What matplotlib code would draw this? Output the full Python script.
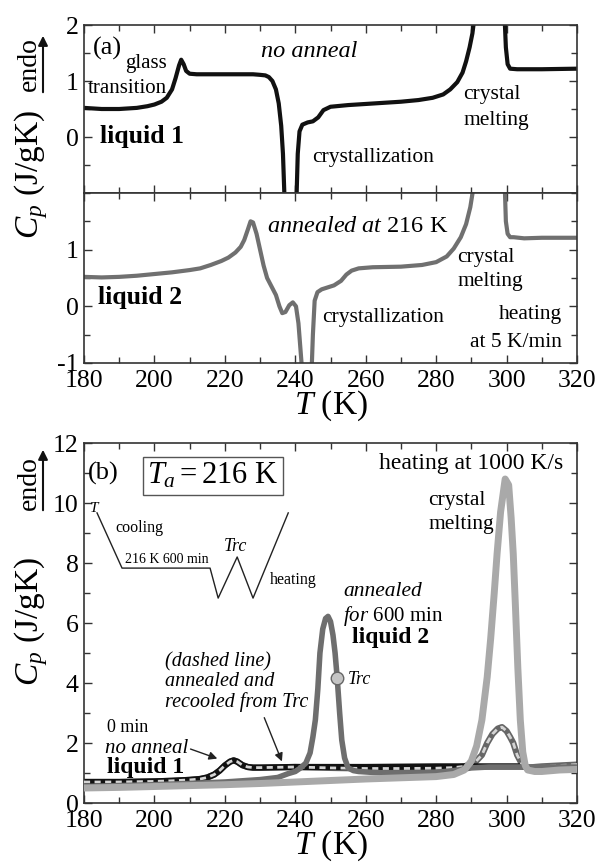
import numpy as np
import matplotlib
matplotlib.use('Agg')
import matplotlib.pyplot as plt
from matplotlib.ticker import MultipleLocator
from matplotlib.patches import FancyArrowPatch

plt.rcParams['font.family'] = ['Liberation Serif', 'DejaVu Serif']
plt.rcParams['mathtext.fontset'] = 'custom'
plt.rcParams['mathtext.rm'] = 'Liberation Serif'
plt.rcParams['mathtext.it'] = 'Liberation Serif:italic'
plt.rcParams['mathtext.bf'] = 'Liberation Serif:bold'
plt.rcParams['axes.unicode_minus'] = False

# ---- (a) DSC, heating at 5 K/min ----
T_noanneal = [180, 185, 190, 195, 198, 200, 202, 203.5, 205, 206, 207, 207.6, 208.3, 209, 210,
              212, 215, 220, 225, 228, 230, 231.5, 232.5, 233.5, 234.5, 235.3, 236, 236.5, 237.0,
              238.5, 240.3, 240.7, 241.2, 242, 243.5, 245, 246.5, 248, 250, 255, 260, 265, 270,
              275, 279, 282, 284, 286, 287.5, 288.5, 289.5, 290.3, 291, 295, 299.4, 299.8,
              300.3, 301, 303, 310, 320]
cp_noanneal = [0.52, 0.50, 0.50, 0.52, 0.55, 0.58, 0.63, 0.70, 0.85, 1.05, 1.28, 1.38, 1.30, 1.18, 1.13,
               1.12, 1.12, 1.12, 1.12, 1.12, 1.11, 1.10, 1.07, 1.00, 0.85, 0.60, 0.20, -0.30, -1.20,
               -3.0, -1.20, -0.30, 0.10, 0.22, 0.26, 0.28, 0.35, 0.48, 0.54, 0.57, 0.59, 0.61, 0.63,
               0.66, 0.70, 0.76, 0.85, 0.98, 1.15, 1.35, 1.60, 1.85, 2.20, 5.0, 2.20, 1.60,
               1.30, 1.22, 1.21, 1.21, 1.22]

T_ann216 = [180, 185, 190, 195, 200, 205, 210, 213, 216, 219, 221, 223, 224.5, 225.5, 226.5, 227.3,
            228, 229, 230, 231, 232, 233, 234.5, 235.5, 236.3, 237.2, 238.3, 239.3, 240.2, 240.9,
            241.4, 241.9, 243.5, 244.6, 245.0, 245.5, 246.3, 247.5, 249, 251, 253, 254.5, 256, 258,
            262, 270, 276, 280, 283, 285, 287, 288.5, 289.7, 290.6, 295, 299.5, 299.8, 300.3, 301,
            302, 305, 310, 315, 320]
cp_ann216 = [0.52, 0.51, 0.52, 0.54, 0.57, 0.60, 0.64, 0.67, 0.73, 0.80, 0.86, 0.95, 1.05, 1.17, 1.35, 1.50,
             1.48, 1.28, 1.00, 0.72, 0.50, 0.38, 0.20, 0.00, -0.12, -0.10, 0.02, 0.07, 0.00, -0.30,
             -0.70, -1.10, -3.0, -1.20, -0.50, 0.10, 0.25, 0.30, 0.33, 0.37, 0.45, 0.56, 0.63, 0.67,
             0.69, 0.70, 0.73, 0.78, 0.88, 1.02, 1.22, 1.45, 1.75, 2.10, 5.0, 2.10, 1.50, 1.28, 1.22,
             1.22, 1.20, 1.21, 1.21, 1.21]

# ---- (b) fast scanning, heating at 1000 K/s ----
T_liq1 = [180, 190, 200, 205, 210, 213, 215, 217, 218.5, 220, 221.5, 222.5, 223.5, 225, 226.5, 228,
          230, 235, 240, 250, 260, 270, 280, 290, 295, 300, 304]
cp_liq1 = [0.70, 0.70, 0.72, 0.74, 0.77, 0.80, 0.85, 0.95, 1.08, 1.25, 1.38, 1.42, 1.38, 1.26, 1.20, 1.18,
           1.18, 1.19, 1.20, 1.20, 1.20, 1.21, 1.22, 1.22, 1.22, 1.22, 1.22]

T_recool = [180, 190, 200, 205, 210, 213, 215, 217, 218.5, 220, 221.5, 222.5, 223.5, 225, 226.5, 228,
            230, 235, 240, 250, 260, 270, 280, 285, 288, 291, 293, 294.5, 296, 297.5, 298.7, 300,
            301, 301.9, 303, 304.7, 306, 310, 315, 320]
cp_recool = [0.70, 0.70, 0.72, 0.74, 0.77, 0.80, 0.85, 0.95, 1.08, 1.25, 1.38, 1.42, 1.38, 1.26, 1.20, 1.18,
             1.18, 1.19, 1.20, 1.17, 1.15, 1.15, 1.16, 1.18, 1.22, 1.35, 1.60, 2.00, 2.30, 2.48, 2.53, 2.40,
             2.20, 2.00, 1.60, 1.22, 1.18, 1.22, 1.25, 1.28]

T_liq2 = [180, 190, 200, 210, 220, 230, 235, 238, 240, 241.5, 243, 244.2, 245, 245.7, 246.4, 247,
          247.8, 248.6, 249.3, 250, 250.7, 251.3, 251.9, 252.6, 253.2, 254, 255, 256.5, 258, 262,
          266, 270, 275, 280, 285, 290, 295, 300, 305, 310, 315, 320]
cp_liq2 = [0.55, 0.58, 0.61, 0.65, 0.70, 0.78, 0.85, 0.98, 1.05, 1.17, 1.33, 1.67, 2.20, 2.77, 3.80, 5.00,
           5.80, 6.15, 6.22, 6.05, 5.60, 5.00, 4.17, 3.00, 2.10, 1.50, 1.17, 1.08, 1.05, 1.02,
           1.00, 1.00, 1.00, 1.02, 1.08, 1.17, 1.20, 1.20, 1.20, 1.20, 1.20, 1.20]

T_melt = [180, 190, 200, 210, 220, 230, 240, 250, 260, 270, 280, 285, 288, 290, 291.5, 293, 294.5,
          295.5, 296.5, 297.3, 298.3, 299.6, 300.6, 301.3, 301.9, 302.5, 303.2, 303.9, 304.6, 305.3,
          306, 308, 310, 315, 320]
cp_melt = [0.50, 0.52, 0.55, 0.58, 0.61, 0.65, 0.70, 0.75, 0.80, 0.84, 0.88, 0.95, 1.10, 1.40, 1.90, 2.77, 4.20,
           5.50, 7.00, 8.30, 9.70, 10.80, 10.60, 9.50, 8.30, 6.60, 4.50, 2.77, 1.70, 1.25,
           1.10, 1.05, 1.05, 1.10, 1.12]

T_rc, cp_rc = 251.9, 4.17

W, H = 605, 866
fig = plt.figure(figsize=(W / 100, H / 100), dpi=100)


def box(left, top, right, bottom):
    return [left / W, 1 - bottom / H, (right - left) / W, (bottom - top) / H]


ax1 = fig.add_axes(box(84, 25, 577, 193))
ax2 = fig.add_axes(box(84, 193, 577, 363))
ax3 = fig.add_axes(box(84, 443, 577, 803))

for ax in (ax1, ax2, ax3):
    ax.set_xlim(180, 320)
    ax.xaxis.set_major_locator(MultipleLocator(20))
    ax.xaxis.set_minor_locator(MultipleLocator(10))
    ax.tick_params(which='both', direction='in', top=True, right=True, labelsize=18.5,
                   color='#333333', pad=4)
    ax.tick_params(axis='x', pad=5)
    ax.tick_params(which='major', length=6, width=1)
    ax.tick_params(which='minor', length=4, width=1)
    for s in ax.spines.values():
        s.set_color('#333333')
        s.set_linewidth(1.2)

for ax in (ax1, ax2):
    ax.set_ylim(-1, 2)
    ax.yaxis.set_minor_locator(MultipleLocator(0.5))
ax1.set_yticks([0, 1, 2])
ax1.set_yticklabels(['0', '1', '2'])
ax1.tick_params(labelbottom=False)
ax2.set_yticks([-1, 0, 1])
ax2.set_yticklabels(['-1', '0', '1'])
ax2.set_xlabel(r'$T$ (K)', fontsize=24, labelpad=-2.5)

ax1.plot(T_noanneal, cp_noanneal, color='#111111', lw=3)
ax2.plot(T_ann216, cp_ann216, color='#707070', lw=3)

ax1.text(182.5, 1.59, '(a)', fontsize=19, va='center')
ax1.text(191.6, 1.32, 'glass', fontsize=15, va='center')
ax1.text(181.1, 0.87, 'transition', fontsize=15, va='center')
ax1.text(244, 1.52, 'no anneal', fontsize=17.5, style='italic', ha='center', va='center')
ax1.text(184.5, 0.0, 'liquid 1', fontsize=18.5, weight='bold', va='center')
ax1.text(244.8, -0.36, 'crystallization', fontsize=15.5, va='center')
ax1.text(287.7, 0.75, 'crystal', fontsize=15.5, va='center')
ax1.text(287.7, 0.30, 'melting', fontsize=15.5, va='center')

ax2.text(232, 1.40, r'$\mathit{annealed\ at}$ 216 K', fontsize=17.5, va='center')
ax2.text(184, 0.15, 'liquid 2', fontsize=18.5, weight='bold', va='center')
ax2.text(247.6, -0.19, 'crystallization', fontsize=15.5, va='center')
ax2.text(286, 0.87, 'crystal', fontsize=15.5, va='center')
ax2.text(286, 0.43, 'melting', fontsize=15.5, va='center')
ax2.text(315.8, -0.15, 'heating', fontsize=15.5, ha='right', va='center')
ax2.text(315.8, -0.63, 'at 5 K/min', fontsize=15.5, ha='right', va='center')

# ---- panel (b) ----
ax3.set_ylim(0, 12)
ax3.yaxis.set_major_locator(MultipleLocator(2))
ax3.yaxis.set_minor_locator(MultipleLocator(1))
ax3.set_xlabel(r'$T$ (K)', fontsize=24, labelpad=-2.5)

# recooled curve: dark casing, then the black liquid 1 trace, then light dashes on top
ax3.plot(T_recool, cp_recool, color='#666666', lw=4.5, zorder=2)
ax3.plot(T_liq1, cp_liq1, color='#111111', lw=4.5, zorder=2.5)
ax3.plot(T_recool, cp_recool, color='#d4d4d4', lw=2, dashes=(2.2, 1.6), zorder=3)
ax3.plot(T_liq2, cp_liq2, color='#6e6e6e', lw=4, zorder=4)
ax3.plot(T_melt, cp_melt, color='#a9a9a9', lw=5, zorder=5)
ax3.plot([T_rc], [cp_rc], 'o', ms=9, mfc='#c4c4c4', mec='#666666', mew=1, zorder=6)

ax3.text(181.1, 11.0, '(b)', fontsize=19, va='center')
ax3.text(216.6, 10.9, r'$T_a = 216\ \mathrm{K}$', fontsize=22, ha='center', va='center',
         bbox=dict(boxstyle='square,pad=0.15', fc='white', ec='#555555', lw=1))

# temperature programme sketch
sketch_T = [183.7, 190.8, 215.8, 218.1, 223.5, 228.0, 238.0]
sketch_y = [9.67, 7.83, 7.83, 6.83, 8.20, 6.83, 9.67]
ax3.plot(sketch_T, sketch_y, color='#222222', lw=1)
ax3.text(183.1, 9.83, r'$T$', fontsize=11, ha='center', va='center')
ax3.text(188.8, 9.17, 'cooling', fontsize=11.5, va='center')
ax3.text(191.6, 8.12, '216 K 600 min', fontsize=10, va='center')
ax3.text(222.9, 8.55, 'Trc', fontsize=13, style='italic', ha='center', va='center')
ax3.text(232.8, 7.43, 'heating', fontsize=11.5, va='center')

ax3.text(316.1, 11.33, 'heating at 1000 K/s', fontsize=17, ha='right', va='center')
ax3.text(277.7, 10.1, 'crystal', fontsize=15.5, va='center')
ax3.text(277.7, 9.27, 'melting', fontsize=15.5, va='center')
ax3.text(253.6, 7.05, 'annealed', fontsize=15.5, style='italic', va='center')
ax3.text(253.6, 6.25, r'$\mathit{for}$ 600 min', fontsize=15, va='center')
ax3.text(256.1, 5.5, 'liquid 2', fontsize=17, weight='bold', va='center')
ax3.text(255, 4.1, 'Trc', fontsize=13, style='italic', va='center')

ax3.text(203, 4.70, '(dashed line)', fontsize=14.5, style='italic', va='center')
ax3.text(203, 4.05, 'annealed and', fontsize=14.5, style='italic', va='center')
ax3.text(203, 3.35, 'recooled from Trc', fontsize=14.5, style='italic', va='center')
ax3.annotate('', xy=(236.5, 1.3), xytext=(230.9, 2.93),
             arrowprops=dict(arrowstyle='-|>', color='#222222', lw=1, mutation_scale=12))
ax3.text(186.5, 2.5, '0 min', fontsize=13, va='center')
ax3.text(186, 1.83, 'no anneal', fontsize=15, style='italic', va='center')
ax3.annotate('', xy=(218.6, 1.45), xytext=(209.5, 1.83),
             arrowprops=dict(arrowstyle='-|>', color='#222222', lw=1, mutation_scale=12))
ax3.text(186.5, 1.2, 'liquid 1', fontsize=17, weight='bold', va='center')

# y labels with the endothermic direction arrow
for y_lab, y_endo, y_tip, y_tail in ((175, 64, 33, 95), (622, 483, 447, 513)):
    fig.text(31 / W, 1 - y_lab / H, r'$C_p$ (J/gK)', fontsize=24, rotation=90,
             ha='center', va='center')
    fig.text(29 / W, 1 - y_endo / H, 'endo', fontsize=20, rotation=90,
             ha='center', va='center')
    fig.add_artist(FancyArrowPatch((43 / W, 1 - y_tail / H), (43 / W, 1 - y_tip / H),
                                   transform=fig.transFigure, arrowstyle='-|>',
                                   mutation_scale=14, lw=1.5, color='#111111'))

fig.savefig('out.png', dpi=100)
